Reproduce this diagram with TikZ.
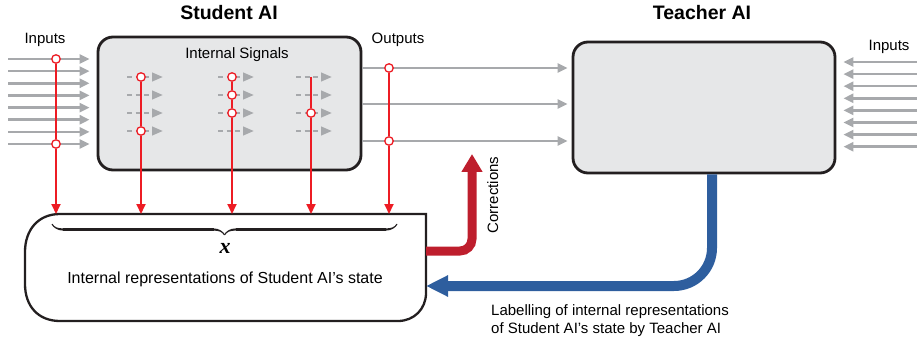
\documentclass[tikz,border=0pt]{standalone}
\usepackage{fontspec}
\setmainfont{Liberation Sans}
\newfontfamily\varfont{Liberation Serif}
\usetikzlibrary{arrows.meta,decorations.pathreplacing,calligraphy}
\definecolor{sigred}{HTML}{ED1C24}
\definecolor{corrred}{HTML}{BE1E2D}
\definecolor{labelblue}{HTML}{2E5E9E}
\definecolor{flowgray}{HTML}{A7A9AC}
\definecolor{boxgray}{HTML}{E6E7E8}
\definecolor{edge}{HTML}{231F20}
\begin{document}
\begin{tikzpicture}[x=1pt, y=-1pt,
        box/.style = {draw=edge, line width=2.8pt, fill=boxgray, rounded corners=15pt, inner sep=0pt},
        dot/.style = {circle, draw=sigred, fill=white, line width=1.3pt, minimum size=8.5pt, inner sep=0pt},
        sig/.style = {sigred, line width=2pt},
        sigtip/.style = {sig, -{Triangle[length=10pt, width=9pt]}},
        flow/.style = {flowgray, line width=2.5pt, -{Triangle[length=10pt, width=9pt]}},
        inner/.style = {flowgray, line width=2.5pt, dash pattern=on 5pt off 3.5pt, -{Triangle[length=11pt, width=8.5pt]}},
        small/.style = {font=\fontsize{15}{18}\selectfont},
        title/.style = {font=\fontsize{19.5}{22}\selectfont\bfseries}]
        \useasboundingbox (0,0) rectangle (917,339);
        \node [box, minimum width=263pt, minimum height=133pt] (student) at (229.5,103.5) {};
        \node [box, minimum width=262pt, minimum height=131pt] (teacher) at (704,107.5) {};
        \node [minimum width=401pt, minimum height=107pt, inner sep=0pt, outer sep=0pt] (repr) at (225.5,267.5) {};
        \draw [edge, line width=2.3pt] (426,214) -- (60,214) .. controls (38,214) and (25,230) .. (25,252)
            -- (25,284) .. controls (25,306) and (38,321) .. (60,321) -- (398,321)
            .. controls (414,321) and (426,309) .. (426,293) -- cycle;
        \node [title, anchor=base] (studenttitle) at (229,20) {Student AI};
        \node [title, anchor=base] (teachertitle) at (702,20) {Teacher AI};
        \node [small, anchor=base] (inputsleft) at (45,44) {Inputs};
        \node [small, anchor=base] (outputs) at (398,43.5) {Outputs};
        \node [small, anchor=base] (signals) at (237,58.5) {Internal Signals};
        \node [small, anchor=base] (inputsright) at (889,51) {Inputs};
        \foreach \y in {59,71.1,83.3,95.4,107.6,119.7,131.9,144}
            \draw [flow, shorten >=7pt] (8,\y) -- (student.west |- 0,\y);
        \foreach \y in {62,74.1,86.2,98.3,110.4,122.5,134.6,146.7}
            \draw [flow, shorten >=7pt] (917,\y) -- (teacher.east |- 0,\y);
        \foreach \y in {68,104,141}
            \draw [flow, shorten >=4pt] (student.east |- 0,\y) -- (teacher.west |- 0,\y);
        \foreach \x in {127,218,296}
            \foreach \y in {77,95,113,131}
                \draw [inner] (\x,\y) -- ++(36,0);
        \node [dot] (in1) at (56,59) {};
        \node [dot] (in2) at (56,144) {};
        \draw [sig] (in1) -- (in2);
        \draw [sigtip] (in2) -- (in2 |- repr.north);
        \node [dot] (a1) at (141,77) {};
        \node [dot] (a2) at (141,131) {};
        \draw [sig] (a1) -- (a2);
        \draw [sigtip] (a2) -- (a2 |- repr.north);
        \node [dot] (b1) at (232,77) {};
        \node [dot] (b2) at (232,95) {};
        \node [dot] (b3) at (232,113) {};
        \draw [sig] (b1) -- (b2);
        \draw [sig] (b2) -- (b3);
        \draw [sigtip] (b3) -- (b3 |- repr.north);
        \coordinate (c0) at (311,77);
        \node [dot] (c1) at (311,113) {};
        \draw [sig] (c0) -- (c1);
        \draw [sigtip] (c1) -- (c1 |- repr.north);
        \node [dot] (out1) at (389,68) {};
        \node [dot] (out2) at (389,141) {};
        \draw [sig] (out1) -- (out2);
        \draw [sigtip] (out2) -- (out2 |- repr.north);
        \draw [decorate, decoration={calligraphic brace, mirror, amplitude=11pt}, line width=2.2pt, pen colour={edge}] (52,224) -- (397,224);
        \node [anchor=base, font=\varfont\fontsize{22}{24}\selectfont\bfseries\itshape] (xlabel) at (225,253) {x};
        \node [anchor=base, font=\fontsize{16}{19}\selectfont] (reprtext) at (225,283) {Internal representations of Student AI’s state};
        \coordinate (corrrow) at (0,251);
        \coordinate (corrtip) at (472,154);
        \draw [corrred, line width=9pt, rounded corners=12pt, -{Triangle[length=18pt, width=20pt]}] (repr.east |- corrrow) -| (corrtip);
        \node [small, rotate=90, anchor=base] (corrections) at (498,195) {Corrections};
        \coordinate (labelrow) at (0,286);
        \draw [labelblue, line width=10pt, rounded corners=38pt, -{Triangle[length=22pt, width=20pt]}] ([xshift=8pt]teacher.south) |- (repr.east |- labelrow);
        \node [small, anchor=north west, align=left, inner sep=0pt] (labelling) at (491,304) {Labelling of internal representations\\of Student AI’s state by Teacher AI};
\end{tikzpicture}
\end{document}
